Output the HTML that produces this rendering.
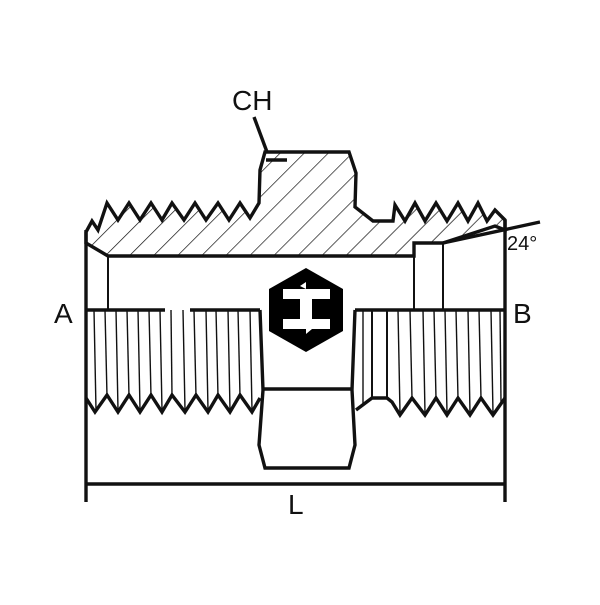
<!DOCTYPE html>
<html><head><style>html,body{margin:0;padding:0;background:#fff}</style></head>
<body>
<svg width="600" height="600" viewBox="0 0 600 600" xmlns="http://www.w3.org/2000/svg">
<defs>
<pattern id="h" width="17" height="17" patternUnits="userSpaceOnUse" patternTransform="rotate(45)">
<line x1="0" y1="0" x2="0" y2="17" stroke="#111" stroke-width="1.4"/>
</pattern>
</defs>
<g fill="none" stroke="#111" stroke-width="3.4" stroke-linejoin="miter">
<path fill="url(#h)" d="M86,243 L86,232 L92,221 L98,230 L107,203 L118,220 L129,203 L140,220 L151,203 L162,220 L172,203 L184,220 L195,203 L206,220 L218,203 L229,220 L240,203 L250,218 L259,203 L260,170 L265,152 L349,152 L356,173 L355,207 L373,221 L393,221 L395,205 L405,221 L415,203 L425,221 L436,203 L447,221 L458,203 L468,221 L478,203 L487,221 L495,210 L505,220 L505,230 L495,226 L443,243 L414,243 L414,256 L108,256 Z"/>
<line x1="86" y1="230" x2="86" y2="502"/>
<line x1="505" y1="220" x2="505" y2="502"/>
<line x1="86" y1="484" x2="505" y2="484"/>
<line x1="443" y1="243" x2="540" y2="222"/>
<line x1="254" y1="117" x2="267" y2="152"/>
<line x1="266" y1="160" x2="287" y2="160"/>
<line x1="108" y1="256" x2="108" y2="310" stroke-width="2"/>
<line x1="414" y1="256" x2="414" y2="310" stroke-width="2"/>
<line x1="443" y1="243" x2="443" y2="310" stroke-width="2"/>
<line x1="86" y1="310" x2="165" y2="310"/>
<line x1="190" y1="310" x2="260" y2="310"/>
<line x1="355" y1="310" x2="505" y2="310"/>
<path d="M260,310 L263,390 L259,445 L265,468 L349,468 L355,445 L352,390 L355,310"/>
<line x1="263" y1="389" x2="352" y2="389"/>
<path d="M86,398 L95,412 L107,395 L118,412 L129,395 L140,412 L151,395 L162,412 L172,395 L185,412 L196,395 L208,412 L218,395 L230,412 L240,395 L252,412 L260,398"/>
<path d="M356,410 L372,398 L387,398 L392,402 L400,415 L412,398 L425,415 L436,398 L447,415 L458,398 L470,415 L481,398 L493,415 L505,398"/>
<line x1="372" y1="310" x2="372" y2="398" stroke-width="2"/>
<line x1="387" y1="310" x2="387" y2="398" stroke-width="2"/>
</g>
<g stroke="#111" stroke-width="1.4">
<line x1="94" y1="310" x2="96" y2="410"/><line x1="105" y1="310" x2="107" y2="396"/>
<line x1="116" y1="310" x2="118" y2="410"/><line x1="127" y1="310" x2="129" y2="396"/>
<line x1="138" y1="310" x2="140" y2="410"/><line x1="149" y1="310" x2="151" y2="396"/>
<line x1="160" y1="310" x2="162" y2="410"/><line x1="171" y1="310" x2="172" y2="396"/>
<line x1="183" y1="310" x2="185" y2="410"/><line x1="194" y1="310" x2="196" y2="396"/>
<line x1="206" y1="310" x2="208" y2="410"/><line x1="216" y1="310" x2="218" y2="396"/>
<line x1="228" y1="310" x2="230" y2="410"/><line x1="238" y1="310" x2="240" y2="396"/>
<line x1="250" y1="310" x2="252" y2="410"/>
<line x1="363" y1="310" x2="363" y2="404"/>
<line x1="398" y1="310" x2="400" y2="413"/><line x1="410" y1="310" x2="412" y2="398"/>
<line x1="423" y1="310" x2="425" y2="413"/><line x1="434" y1="310" x2="436" y2="398"/>
<line x1="445" y1="310" x2="447" y2="413"/><line x1="456" y1="310" x2="458" y2="398"/>
<line x1="468" y1="310" x2="470" y2="413"/><line x1="479" y1="310" x2="481" y2="398"/>
<line x1="491" y1="310" x2="493" y2="413"/><line x1="500" y1="310" x2="501" y2="402"/>
</g>
<polygon points="306,268 343,289 343,331 306,352 269,331 269,289" fill="#000"/>
<g fill="#fff">
<rect x="283" y="289" width="47" height="10"/>
<rect x="283" y="319" width="47" height="10"/>
<rect x="300" y="289" width="12" height="40"/>
<polygon points="300,286 306,282 306,289"/>
<polygon points="306,329 312,329 306,334"/>
</g>
<g font-family="Liberation Sans, sans-serif" fill="#111">
<text x="232" y="110" font-size="28">CH</text>
<text x="54" y="323" font-size="28">A</text>
<text x="513" y="323" font-size="28">B</text>
<text x="507" y="250" font-size="20">24°</text>
<text x="288" y="514" font-size="28">L</text>
</g>
</svg>
</body></html>
